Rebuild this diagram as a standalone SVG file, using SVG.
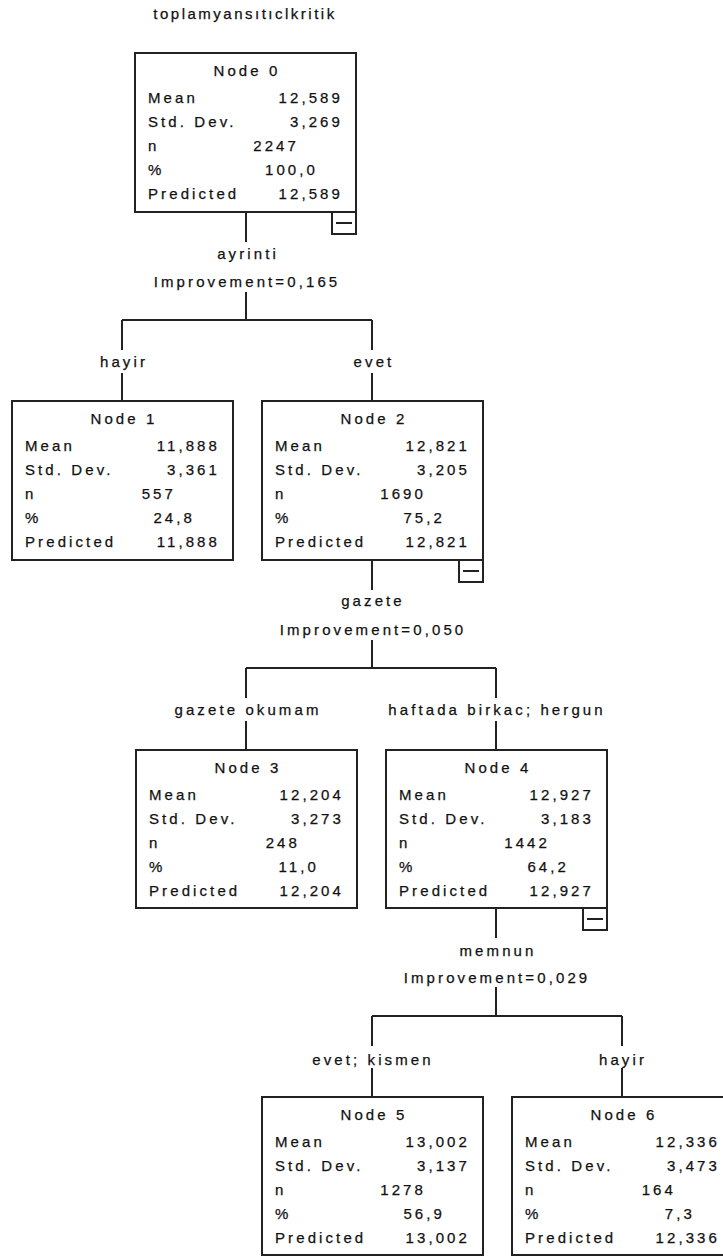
<svg xmlns="http://www.w3.org/2000/svg" width="723" height="1256" viewBox="0 0 723 1256">
<style>
text{font-family:"Liberation Sans",Arial,sans-serif;font-size:15px;fill:#111;stroke:#111;stroke-width:0.25;letter-spacing:3.1px}
.t{letter-spacing:2.5px}
.box{fill:#fff;stroke:#222;stroke-width:2}
.c{text-anchor:middle}
.e{text-anchor:end}
.ln{fill:none;stroke:#222;stroke-width:2}
</style>
<rect width="723" height="1256" fill="#fff"/>
<text x="245" y="19" class="c t">toplamyansıtıclkritik</text>

<g id="connectors" class="ln">
  <path d="M246 212V242M246 292V320M122 320H372M122 320V350M372 320V350M122 373V401M372 373V401"/>
  <path d="M372 560V590M372 640V668M246 668H496M246 668V698M496 668V698M246 721V750M496 721V750"/>
  <path d="M496 908V938M496 987V1016M372 1016H622M372 1016V1046M622 1016V1046M372 1068V1097M622 1068V1097"/>
</g>
<g id="connector-labels">
  <text x="248" y="259" class="c">ayrinti</text>
  <text x="247" y="287" class="c">Improvement=0,165</text>
  <text x="124" y="367" class="c">hayir</text>
  <text x="374" y="367" class="c">evet</text>
  <text x="373" y="606" class="c">gazete</text>
  <text x="373" y="635" class="c">Improvement=0,050</text>
  <text x="248" y="715" class="c">gazete okumam</text>
  <text x="497" y="715" class="c">haftada birkac; hergun</text>
  <text x="498" y="956" class="c">memnun</text>
  <text x="497" y="983" class="c">Improvement=0,029</text>
  <text x="373" y="1065" class="c">evet; kismen</text>
  <text x="623" y="1065" class="c">hayir</text>
</g>

<g id="node0" transform="translate(135,53)">
  <rect class="box" x="0" y="0" width="221" height="159"/>
  <text x="112" y="23" class="c">Node 0</text>
  <text x="13" y="50">Mean</text><text x="208" y="50" class="e">12,589</text>
  <text x="13" y="74">Std. Dev.</text><text x="208" y="74" class="e">3,269</text>
  <text x="13" y="98">n</text><text x="164" y="98" class="e">2247</text>
  <text x="13" y="122">%</text><text x="183" y="122" class="e">100,0</text>
  <text x="13" y="146">Predicted</text><text x="208" y="146" class="e">12,589</text>
  <rect class="box" x="197" y="159" width="24" height="22"/>
  <line class="ln" x1="201" y1="170" x2="217" y2="170"/>
</g>

<g id="node1" transform="translate(12,401)">
  <rect class="box" x="0" y="0" width="221" height="159"/>
  <text x="112" y="23" class="c">Node 1</text>
  <text x="13" y="50">Mean</text><text x="208" y="50" class="e">11,888</text>
  <text x="13" y="74">Std. Dev.</text><text x="208" y="74" class="e">3,361</text>
  <text x="13" y="98">n</text><text x="164" y="98" class="e">557</text>
  <text x="13" y="122">%</text><text x="183" y="122" class="e">24,8</text>
  <text x="13" y="146">Predicted</text><text x="208" y="146" class="e">11,888</text>
</g>

<g id="node2" transform="translate(262,401)">
  <rect class="box" x="0" y="0" width="221" height="159"/>
  <text x="112" y="23" class="c">Node 2</text>
  <text x="13" y="50">Mean</text><text x="208" y="50" class="e">12,821</text>
  <text x="13" y="74">Std. Dev.</text><text x="208" y="74" class="e">3,205</text>
  <text x="13" y="98">n</text><text x="164" y="98" class="e">1690</text>
  <text x="13" y="122">%</text><text x="183" y="122" class="e">75,2</text>
  <text x="13" y="146">Predicted</text><text x="208" y="146" class="e">12,821</text>
  <rect class="box" x="197" y="159" width="24" height="22"/>
  <line class="ln" x1="201" y1="170" x2="217" y2="170"/>
</g>

<g id="node3" transform="translate(136,750)">
  <rect class="box" x="0" y="0" width="221" height="158"/>
  <text x="112" y="23" class="c">Node 3</text>
  <text x="13" y="50">Mean</text><text x="208" y="50" class="e">12,204</text>
  <text x="13" y="74">Std. Dev.</text><text x="208" y="74" class="e">3,273</text>
  <text x="13" y="98">n</text><text x="164" y="98" class="e">248</text>
  <text x="13" y="122">%</text><text x="183" y="122" class="e">11,0</text>
  <text x="13" y="146">Predicted</text><text x="208" y="146" class="e">12,204</text>
</g>

<g id="node4" transform="translate(386,750)">
  <rect class="box" x="0" y="0" width="221" height="158"/>
  <text x="112" y="23" class="c">Node 4</text>
  <text x="13" y="50">Mean</text><text x="208" y="50" class="e">12,927</text>
  <text x="13" y="74">Std. Dev.</text><text x="208" y="74" class="e">3,183</text>
  <text x="13" y="98">n</text><text x="164" y="98" class="e">1442</text>
  <text x="13" y="122">%</text><text x="183" y="122" class="e">64,2</text>
  <text x="13" y="146">Predicted</text><text x="208" y="146" class="e">12,927</text>
  <rect class="box" x="197" y="158" width="24" height="22"/>
  <line class="ln" x1="201" y1="169" x2="217" y2="169"/>
</g>

<g id="node5" transform="translate(262,1097)">
  <rect class="box" x="0" y="0" width="221" height="158"/>
  <text x="112" y="23" class="c">Node 5</text>
  <text x="13" y="50">Mean</text><text x="208" y="50" class="e">13,002</text>
  <text x="13" y="74">Std. Dev.</text><text x="208" y="74" class="e">3,137</text>
  <text x="13" y="98">n</text><text x="164" y="98" class="e">1278</text>
  <text x="13" y="122">%</text><text x="183" y="122" class="e">56,9</text>
  <text x="13" y="146">Predicted</text><text x="208" y="146" class="e">13,002</text>
</g>

<g id="node6" transform="translate(512,1097)">
  <rect class="box" x="0" y="0" width="221" height="158"/>
  <text x="112" y="23" class="c">Node 6</text>
  <text x="13" y="50">Mean</text><text x="208" y="50" class="e">12,336</text>
  <text x="13" y="74">Std. Dev.</text><text x="208" y="74" class="e">3,473</text>
  <text x="13" y="98">n</text><text x="164" y="98" class="e">164</text>
  <text x="13" y="122">%</text><text x="183" y="122" class="e">7,3</text>
  <text x="13" y="146">Predicted</text><text x="208" y="146" class="e">12,336</text>
</g>
</svg>
